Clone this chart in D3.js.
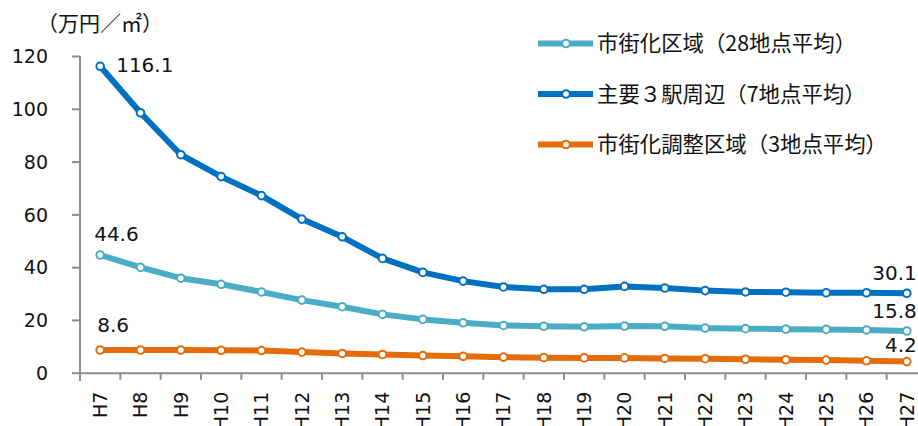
<!DOCTYPE html>
<html><head><meta charset="utf-8">
<script src="https://cdn.jsdelivr.net/npm/d3@7"></script>
<style>
html,body{margin:0;padding:0;background:#fff;overflow:hidden;}
svg{display:block;}
</style></head>
<body><svg id="chart" width="918" height="426"></svg>
<script>
const categories = ["H7","H8","H9","H10","H11","H12","H13","H14","H15","H16","H17","H18","H19","H20","H21","H22","H23","H24","H25","H26","H27"];
const seriesNames = ["市街化区域（28地点平均）","主要３駅周辺（7地点平均）","市街化調整区域（3地点平均）"];
const shigaikaValues = [44.6,39.9,35.8,33.5,30.6,27.5,25.0,22.1,20.2,18.9,17.9,17.6,17.4,17.7,17.6,16.9,16.7,16.5,16.4,16.2,15.8];
const ekiValues = [116.1,98.5,82.6,74.3,67.1,58.2,51.5,43.3,38.0,34.7,32.5,31.6,31.6,32.7,32.1,31.1,30.6,30.5,30.3,30.3,30.1];
const choseiValues = [8.6,8.6,8.6,8.5,8.4,7.8,7.3,6.9,6.5,6.2,5.9,5.7,5.6,5.6,5.4,5.3,5.1,4.9,4.8,4.5,4.2];
const yTicks = [0,20,40,60,80,100,120];
const yTitle = "（万円／㎡）";

const colors = ["#4BACC6","#0070C0","#E46C0A"];
const allValues = [shigaikaValues, ekiValues, choseiValues];
// label offsets (style) for first and last labels of each series
const firstOffsets = [[-6,-14],[16,6],[-3,-18]];
const lastOffsets = [[10,-13],[10,-13],[10,-10]];

const svg = d3.select("#chart");
const numFont = "'DejaVu Sans', Verdana, sans-serif";
const jpFont = "'Noto Sans CJK JP', sans-serif";

const x = d3.scaleBand().domain(categories).range([80, 927]);
const y = d3.scaleLinear().domain([0,120]).range([372.7, 56]);
const axisColor = "#8c8c8c";

// y axis
const yAxis = d3.axisLeft(y).tickValues(yTicks).tickSize(8).tickPadding(24).tickFormat(d3.format("d"));
const gy = svg.append("g").attr("transform","translate(80,0)").call(yAxis);
gy.select(".domain").attr("stroke",axisColor).attr("stroke-width",2).attr("d","M0,56V381");
gy.selectAll(".tick line").attr("stroke",axisColor).attr("stroke-width",2);
gy.selectAll(".tick text").attr("font-family",numFont).attr("font-size",19).attr("fill","#111").attr("dy","0.35em");

// x axis
const xAxis = d3.axisBottom(x).tickSize(0).tickFormat(d=>d);
const gx = svg.append("g").attr("transform","translate(0,372.7)").call(xAxis);
gx.select(".domain").attr("stroke",axisColor).attr("stroke-width",2);
gx.selectAll(".tick text").attr("font-family",numFont).attr("font-size",19).attr("fill","#111")
  .attr("text-anchor","end").attr("transform","rotate(-90)").attr("x",-19).attr("y",0).attr("dy","0.36em");
// boundary ticks
const bounds = categories.map(c=>x(c)).concat([x(categories[categories.length-1])+x.bandwidth()]);
gx.selectAll("line.bt").data(bounds).enter().append("line").attr("class","bt")
  .attr("x1",d=>d).attr("x2",d=>d).attr("y1",0).attr("y2",7).attr("stroke",axisColor).attr("stroke-width",2);

// y title
svg.append("text").attr("x",100).attr("y",31).attr("text-anchor","middle").attr("font-family",jpFont)
  .attr("font-size",21).attr("fill","#111").text(yTitle);

const line = d3.line().x((d,i)=>x(categories[i])+x.bandwidth()/2).y(d=>y(d));

allValues.forEach((vals,si)=>{
  const g = svg.append("g");
  g.append("path").datum(vals).attr("d",line).attr("fill","none").attr("stroke",colors[si])
    .attr("stroke-width",6).attr("stroke-linejoin","round");
  g.selectAll("circle").data(vals).enter().append("circle")
    .attr("cx",(d,i)=>x(categories[i])+x.bandwidth()/2).attr("cy",d=>y(d)).attr("r",3.8)
    .attr("fill","#fff").attr("stroke",colors[si]).attr("stroke-width",2);
  const n = vals.length;
  g.append("text").attr("x",x(categories[0])+x.bandwidth()/2+firstOffsets[si][0])
    .attr("y",y(vals[0])+firstOffsets[si][1]).attr("font-family",numFont).attr("font-size",20).attr("fill","#111")
    .text(d3.format(".1f")(vals[0]));
  g.append("text").attr("x",x(categories[n-1])+x.bandwidth()/2+lastOffsets[si][0])
    .attr("y",y(vals[n-1])+lastOffsets[si][1]).attr("text-anchor","end").attr("font-family",numFont).attr("font-size",20).attr("fill","#111")
    .text(d3.format(".1f")(vals[n-1]));
});

// legend
const leg = svg.append("g");
seriesNames.forEach((name,i)=>{
  const ly = 43.5 + i*50.5;
  leg.append("line").attr("x1",538).attr("x2",593).attr("y1",ly).attr("y2",ly).attr("stroke",colors[i]).attr("stroke-width",6);
  leg.append("circle").attr("cx",566).attr("cy",ly).attr("r",3.8).attr("fill","#fff").attr("stroke",colors[i]).attr("stroke-width",2);
  leg.append("text").attr("x",597).attr("y",ly).attr("dy","0.36em").attr("font-family",jpFont).attr("font-size",21.4).attr("fill","#111").text(name);
});
</script>
</body></html>
